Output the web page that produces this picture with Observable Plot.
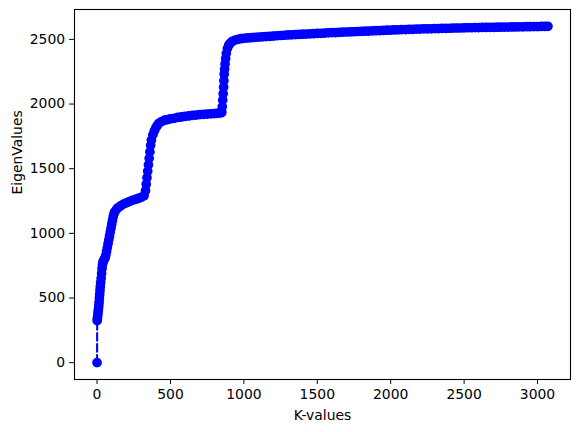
<!DOCTYPE html>
<html>
<head>
<meta charset="utf-8">
<script src="https://cdn.jsdelivr.net/npm/d3@7"></script>
<script src="https://cdn.jsdelivr.net/npm/@observablehq/plot@0.6"></script>
<style>
  html, body { margin: 0; padding: 0; background: #fff; }
  svg { display: block; }
</style>
</head>
<body>
<div id="chart"></div>
<script>
// K index values
const kValues = [
  0, 1, 2, 4, 6, 8, 10, 12, 14, 16, 18, 20, 22, 25, 28, 31, 34, 37, 40, 45,
  50, 55, 60, 65, 70, 75, 80, 85, 90, 95, 100, 105, 110, 115, 120, 130, 140,
  160, 180, 200, 220, 240, 260, 280, 300, 320, 330, 335, 340, 345, 350, 355,
  360, 365, 370, 380, 390, 400, 410, 420, 440, 460, 480, 500, 525, 550, 575,
  600, 625, 650, 675, 700, 725, 750, 775, 800, 815, 830, 845, 850, 853, 856,
  859, 862, 864, 866, 869, 872, 876, 880, 888, 897, 907, 920, 940, 960, 980,
  1000, 1025, 1050, 1075, 1100, 1125, 1150, 1175, 1200, 1225, 1250, 1275,
  1300, 1325, 1350, 1375, 1400, 1425, 1450, 1475, 1500, 1525, 1550, 1575,
  1600, 1625, 1650, 1675, 1700, 1725, 1750, 1775, 1800, 1825, 1850, 1875,
  1900, 1925, 1950, 1975, 2000, 2025, 2050, 2075, 2100, 2125, 2150, 2175,
  2200, 2225, 2250, 2275, 2300, 2325, 2350, 2375, 2400, 2425, 2450, 2475,
  2500, 2525, 2550, 2575, 2600, 2625, 2650, 2675, 2700, 2725, 2750, 2775,
  2800, 2825, 2850, 2875, 2900, 2925, 2950, 2975, 3000, 3025, 3050, 3071
];
// Eigenvalues at those K values
const eigenValues = [
  0, 325, 340, 358, 378, 398, 418, 440, 468, 498, 528, 558, 588, 620, 652, 690, 728, 758, 778, 790,
  800, 812, 832, 860, 890, 920, 950, 980, 1010, 1040, 1070, 1100, 1128, 1150, 1165, 1182, 1196,
  1212, 1226, 1236, 1246, 1255, 1262, 1270, 1278, 1290, 1330, 1380, 1430, 1480, 1530, 1580,
  1630, 1680, 1720, 1762, 1792, 1815, 1834, 1850, 1865, 1875, 1880, 1886, 1890, 1896, 1900,
  1905, 1908, 1912, 1915, 1918, 1920, 1922, 1924, 1926, 1928, 1930, 1933, 1936, 1980, 2030,
  2080, 2130, 2180, 2230, 2270, 2310, 2350, 2390, 2430, 2455, 2470, 2484, 2494, 2500, 2505,
  2508, 2511, 2513, 2516, 2518, 2520, 2522, 2524, 2526, 2528, 2530, 2532,
  2534, 2535, 2537, 2538, 2540, 2541, 2543, 2544, 2546, 2547, 2549, 2550,
  2552, 2553, 2554, 2556, 2557, 2558, 2559, 2561, 2562, 2563, 2564, 2566,
  2567, 2568, 2569, 2571, 2572, 2573, 2574, 2575, 2576, 2577, 2578, 2579,
  2580, 2581, 2581, 2582, 2583, 2584, 2585, 2585, 2586, 2587, 2588, 2588,
  2589, 2590, 2590, 2591, 2591, 2592, 2592, 2593, 2593, 2594, 2594, 2595,
  2595, 2596, 2596, 2597, 2597, 2598, 2598, 2599, 2599, 2600, 2600, 2601
];
const xTicks = [0, 500, 1000, 1500, 2000, 2500, 3000];
const yTicks = [0, 500, 1000, 1500, 2000, 2500];

const data = kValues.map((k, i) => ({k, v: eigenValues[i]}));

// matplotlib-like 5% margins
const xMin = d3.min(kValues), xMax = d3.max(kValues);
const yMin = d3.min(eigenValues), yMax = d3.max(eigenValues);
const xPad = (xMax - xMin) * 0.05, yPad = (yMax - yMin) * 0.05;

const font = "DejaVu Sans, sans-serif";

const chart = Plot.plot({
  width: 580,
  height: 432,
  marginLeft: 74,
  marginRight: 10,
  marginTop: 9,
  marginBottom: 53,
  style: {fontFamily: font, fontSize: "13.9px", color: "black", background: "white", overflow: "visible"},
  x: {domain: [xMin - xPad, xMax + xPad]},
  y: {domain: [yMin - yPad, yMax + yPad]},
  marks: [
    Plot.line(data, {x: "k", y: "v", stroke: "#0000ff", strokeWidth: 2.08, strokeDasharray: "7.7,3.3", curve: "linear"}),
    Plot.dot(data, {x: "k", y: "v", r: 4.17, fill: "#0000ff", stroke: "#0000ff", strokeWidth: 1.39}),
    Plot.frame({stroke: "black", strokeWidth: 1.1}),
    Plot.axisX({ticks: xTicks, tickFormat: d => String(d), tickSize: 4.9, tickPadding: 4.5, label: null, fontSize: 13.9, stroke: "black", fill: "black"}),
    Plot.axisY({ticks: yTicks, tickFormat: d => String(d), tickSize: 4.9, tickPadding: 4.5, label: null, fontSize: 13.9, stroke: "black", fill: "black"}),
    Plot.text(["K-values"], {frameAnchor: "bottom", dy: 36, text: d => d, fontSize: 13.9, fill: "black", lineAnchor: "middle"}),
    Plot.text(["EigenValues"], {frameAnchor: "left", dx: -57.3, rotate: -90, text: d => d, fontSize: 13.9, fill: "black", lineAnchor: "middle"})
  ]
});
document.getElementById("chart").appendChild(chart);
</script>
</body>
</html>
